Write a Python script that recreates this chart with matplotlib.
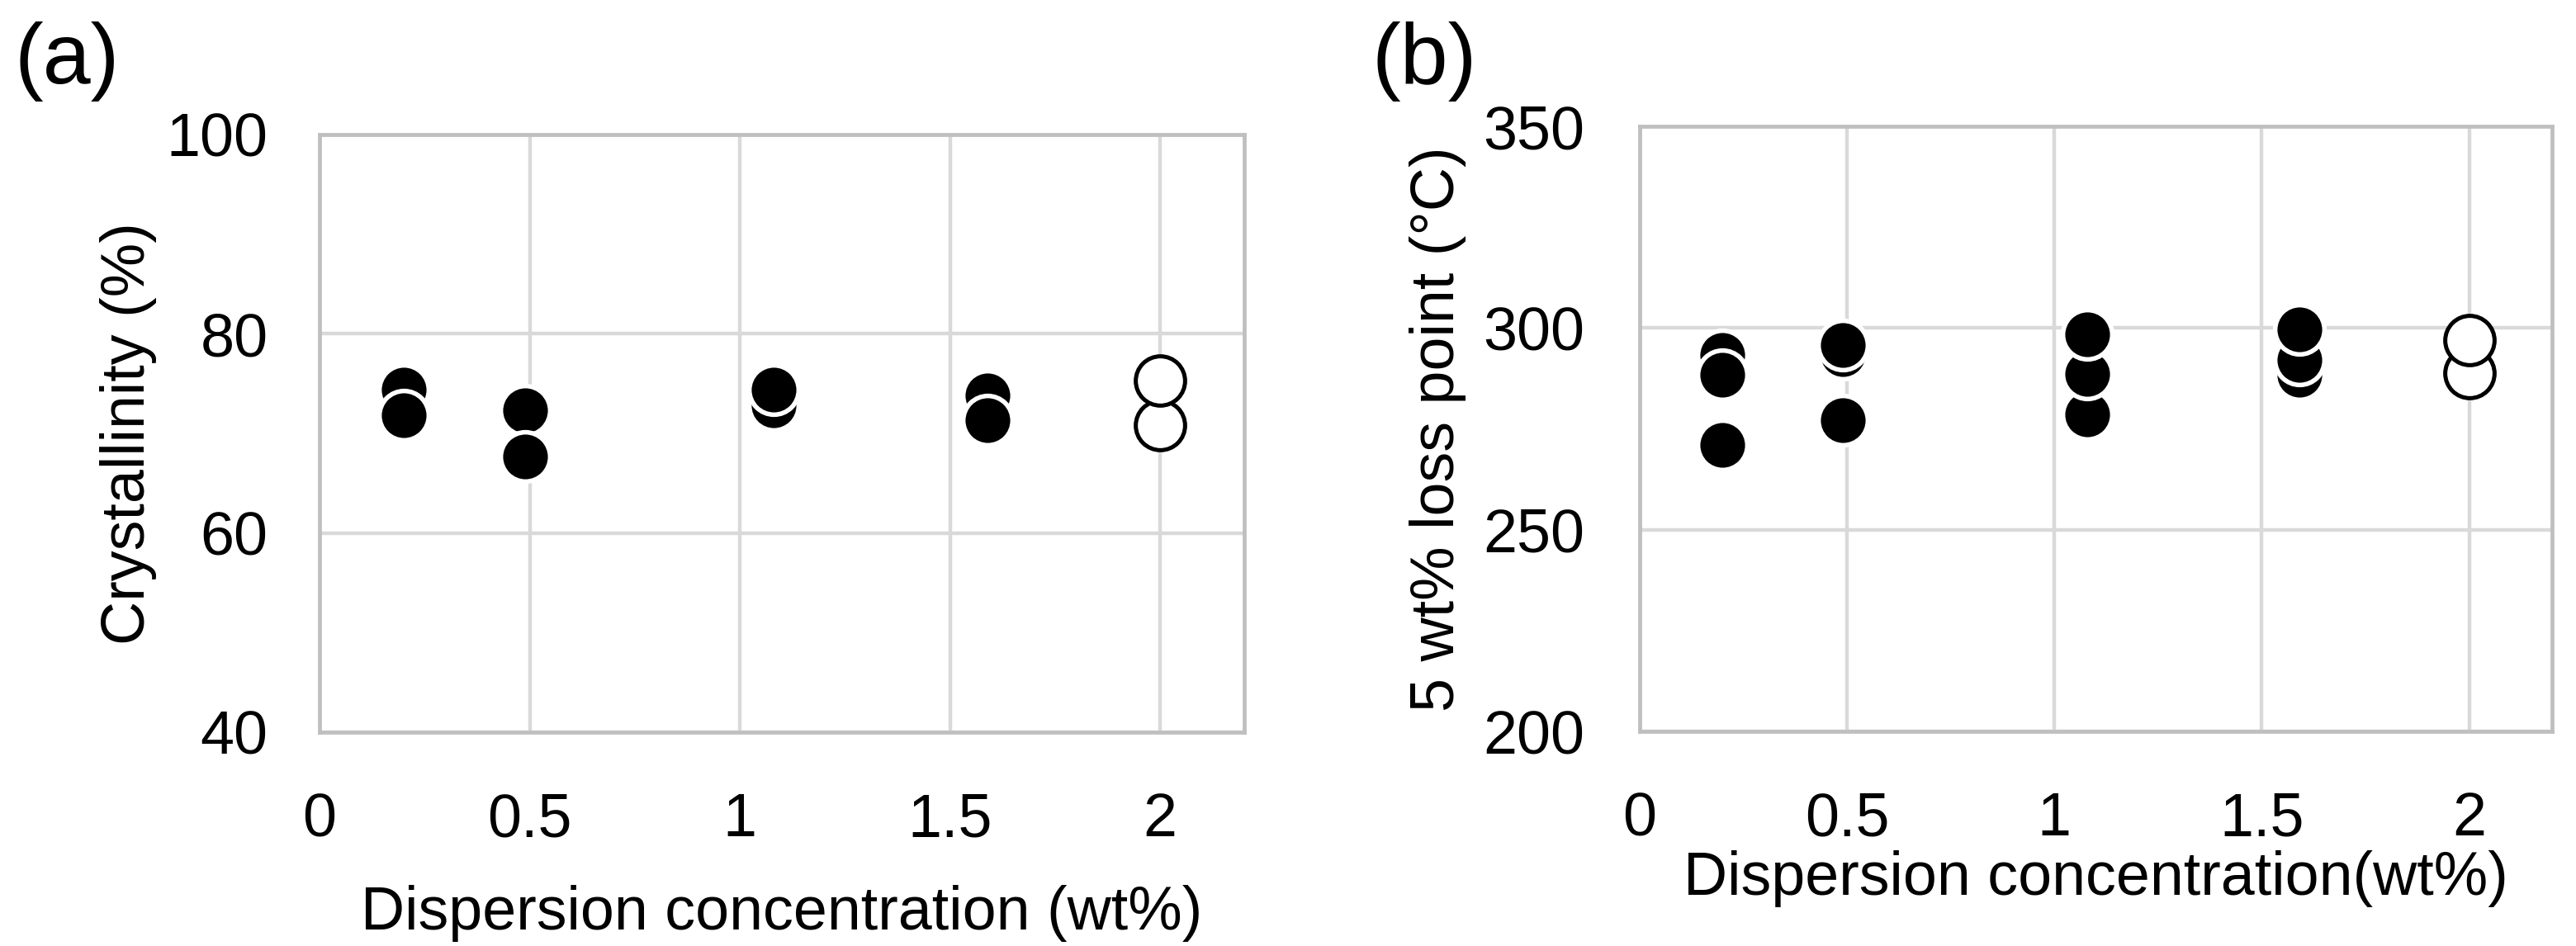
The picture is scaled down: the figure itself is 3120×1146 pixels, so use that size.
import matplotlib
matplotlib.use("Agg")
import matplotlib.pyplot as plt

plt.rcParams['font.family'] = ['Liberation Sans', 'DejaVu Sans']

# x positions (dispersion concentration, wt%)
conc_a = [0.2, 0.2, 0.49, 0.49, 1.08, 1.08, 1.59, 1.59]
cryst = [74.4, 71.8, 72.3, 67.7, 72.8, 74.4, 73.8, 71.3]
conc_a_open = [2.0, 2.0]
cryst_open = [70.8, 75.3]

conc_b = [0.2, 0.2, 0.2, 0.49, 0.49, 0.49, 1.08, 1.08, 1.08, 1.59, 1.59, 1.59]
loss_temp = [293.3, 288.4, 271.0, 293.5, 295.7, 277.1, 278.6, 288.6, 298.4, 288.4, 292.0, 299.6]
conc_b_open = [2.0, 2.0]
loss_temp_open = [288.8, 297.1]

xticks = [0, 0.5, 1, 1.5, 2]
xtick_labels = ["0", "0.5", "1", "1.5", "2"]
yticks_a = [40, 60, 80, 100]
yticks_b = [200, 250, 300, 350]

W, H = 3120, 1146
fig = plt.figure(figsize=(W / 100, H / 100), dpi=100)

ax1 = fig.add_axes([387 / W, 1 - 887 / H, 1120 / W, 724 / H])
ax2 = fig.add_axes([1986 / W, 1 - 886 / H, 1105 / W, 733 / H])

fs = 53
for ax in (ax1, ax2):
    ax.set_xlim(0, 2.2)
    ax.set_xticks(xticks)
    ax.set_xticklabels(xtick_labels)
    ax.grid(True, color='#d9d9d9', linewidth=3.2)
    ax.set_axisbelow(True)
    for s in ax.spines.values():
        s.set_color('#bfbfbf')
        s.set_linewidth(3.4)
    ax.tick_params(length=0, labelsize=fs)
    ax.tick_params(axis='x', pad=52)

ax1.tick_params(axis='y', pad=45)
ax2.tick_params(axis='y', pad=48)

mk = dict(linestyle='none', marker='o', markersize=43)

ax1.plot(conc_a, cryst, color='black', markeredgecolor='white', markeredgewidth=4, **mk)
ax1.plot(conc_a_open, cryst_open, color='black', markerfacecolor='white',
         markeredgecolor='black', markeredgewidth=3.6, **mk)
ax1.set_ylim(40, 100)
ax1.set_yticks(yticks_a)
ax1.set_ylabel("Crystallinity (%)", fontsize=fs)
ax1.yaxis.set_label_coords(-0.176, 0.5)
ax1.set_xlabel("Dispersion concentration (wt%)", fontsize=fs)
ax1.xaxis.set_label_coords(0.5, -0.256)

ax2.plot(conc_b, loss_temp, color='black', markeredgecolor='white', markeredgewidth=4, **mk)
ax2.plot(conc_b_open, loss_temp_open, color='black', markerfacecolor='white',
         markeredgecolor='black', markeredgewidth=3.6, **mk)
ax2.set_ylim(200, 350)
ax2.set_yticks(yticks_b)
ax2.set_ylabel("5 wt% loss point (°C)", fontsize=fs)
ax2.yaxis.set_label_coords(-0.19, 0.5)
ax2.set_xlabel("Dispersion concentration(wt%)", fontsize=fs)
ax2.xaxis.set_label_coords(0.5, -0.196)

fig.text(17 / W, 1 - 26 / H, "(a)", fontsize=75, va='top', ha='left')
fig.text(1662 / W, 1 - 26 / H, "(b)", fontsize=75, va='top', ha='left')

fig.savefig("out.png", dpi=100, facecolor='white')
